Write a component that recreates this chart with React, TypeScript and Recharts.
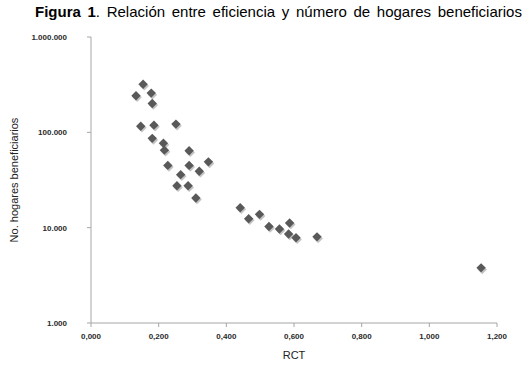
import React from "react";
import { ScatterChart, Scatter, XAxis, YAxis } from "recharts";

const rctValues = [0.154, 0.133, 0.178, 0.181, 0.147, 0.186, 0.251, 0.181, 0.214, 0.217, 0.29, 0.227, 0.29, 0.347, 0.32, 0.265, 0.254, 0.287, 0.31, 0.441, 0.466, 0.498, 0.526, 0.557, 0.587, 0.584, 0.606, 0.668, 1.153];
const hogares = [319000, 242000, 258000, 201000, 116000, 119000, 122000, 86500, 77000, 65000, 64000, 45000, 45000, 49000, 39000, 36000, 27500, 27500, 20500, 16200, 12400, 13800, 10300, 9700, 11200, 8570, 7830, 8010, 3790];
const xTicks = [0, 0.2, 0.4, 0.6, 0.8, 1.0, 1.2];
const yTicks = [1000, 10000, 100000, 1000000];

const data = rctValues.map((x, i) => ({ x, y: hogares[i] }));

const fmtY = (v: number) => String(Math.round(v)).replace(/\B(?=(\d{3})+(?!\d))/g, ".");
const fmtX = (v: number) => v.toFixed(3).replace(".", ",");

const Diamond = (props: any) => {
  const { cx, cy } = props;
  if (cx == null || cy == null) return null;
  const r = 4.7;
  const pts = (dx: number, dy: number) =>
    `${cx + dx},${cy + dy - r} ${cx + dx + r},${cy + dy} ${cx + dx},${cy + dy + r} ${cx + dx - r},${cy + dy}`;
  return (
    <g>
      <polygon points={pts(1.2, 1.6)} fill="#c4c4c4" />
      <polygon points={pts(0, 0)} fill="#595959" />
    </g>
  );
};

const tickStyle = { fill: "#2a2a2a", fontSize: 8, fontWeight: "bold" as const };

export default function App() {
  return (
    <div style={{ position: "absolute", left: 0, top: 0, width: 530, height: 367, background: "#fff" }}>
      <div
        style={{
          position: "absolute",
          left: 35,
          top: 3,
          fontFamily: "Liberation Sans, Arial, sans-serif",
          fontSize: 15,
          wordSpacing: 2.5,
          color: "#000",
          whiteSpace: "nowrap",
        }}
      >
        <b>Figura 1</b>. Relación entre eficiencia y número de hogares beneficiarios
      </div>
      <ScatterChart
        width={530}
        height={367}
        margin={{ top: 37, right: 33, left: 0, bottom: 0 }}
        style={{ fontFamily: "Liberation Sans, Arial, sans-serif" }}
      >
        <XAxis
          type="number"
          dataKey="x"
          domain={[0, 1.2]}
          ticks={xTicks}
          tickFormatter={fmtX}
          height={44}
          stroke="#a6a6a6"
          tickSize={4}
          tickMargin={6}
          tick={tickStyle}
          label={{ value: "RCT", position: "insideBottom", offset: 8, fill: "#222", fontSize: 11 }}
        />
        <YAxis
          type="number"
          dataKey="y"
          scale="log"
          domain={[1000, 1000000]}
          ticks={yTicks}
          tickFormatter={fmtY}
          width={91}
          stroke="#a6a6a6"
          tickSize={4}
          tickMargin={20}
          tick={tickStyle}
          allowDataOverflow
          label={{
            value: "No. hogares beneficiarios",
            angle: -90,
            position: "insideLeft",
            offset: 14,
            fill: "#222",
            fontSize: 11,
            style: { textAnchor: "middle" },
          }}
        />
        <Scatter data={data} shape={Diamond} isAnimationActive={false} />
      </ScatterChart>
    </div>
  );
}
